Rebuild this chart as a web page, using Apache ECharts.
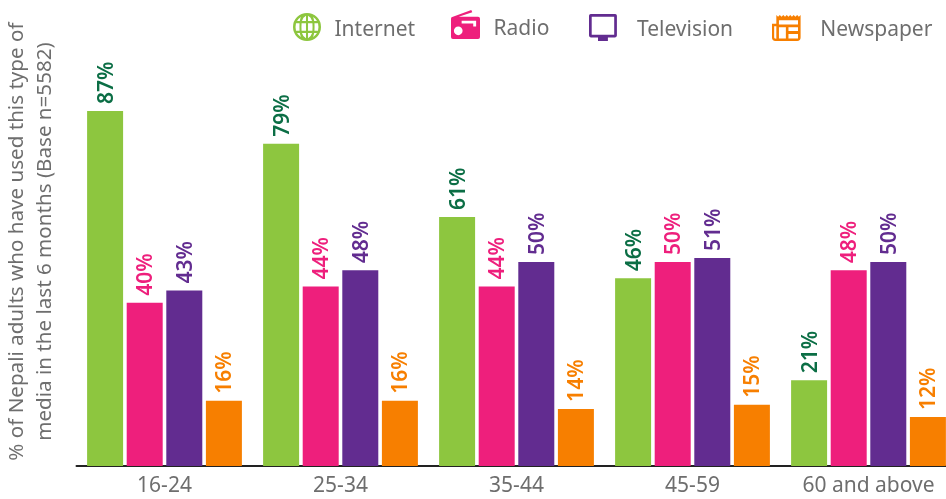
<!DOCTYPE html>
<html>
<head>
<meta charset="utf-8">
<style>
  html, body { margin: 0; padding: 0; background: #fff; }
  #chart { width: 946px; height: 499px; }
</style>
<script src="https://cdn.jsdelivr.net/npm/echarts@6/dist/echarts.min.js"></script>
</head>
<body>
<div id="chart"></div>
<script>
var categories = ['16-24', '25-34', '35-44', '45-59', '60 and above']
var internet = [87, 79, 61, 46, 21]
var radio = [40, 44, 44, 50, 48]
var television = [43, 48, 50, 51, 50]
var newspaper = [16, 16, 14, 15, 12]
var yTitle = '% of Nepali adults who have used this type of\nmedia in the last 6 months (Base n=5582)'

var FONT = '"Noto Sans", sans-serif'

// 图例图标 (holes are wound the other way round)
var globeIcon = 'path://M15 0A15 15 0 1 1 15 30A15 15 0 1 1 15 0Z' +
  'M13.9 3Q10.6 4.5 9.6 8.5L13.9 8.5Z' +
  'M16.1 3L16.1 8.5L20.4 8.5Q19.4 4.5 16.1 3Z' +
  'M8.5 4.4Q5.8 6 4.3 8.5L7.3 8.5Q7.7 6.2 8.5 4.4Z' +
  'M21.5 4.4Q22.3 6.2 22.7 8.5L25.7 8.5Q24.2 6 21.5 4.4Z' +
  'M7 11L3.2 11Q2.2 15 3.2 19L7 19Q6.8 15 7 11Z' +
  'M13.9 11L9.2 11Q8.9 15 9.2 19L13.9 19Z' +
  'M16.1 11L16.1 19L20.8 19Q21.1 15 20.8 11Z' +
  'M23 11Q23.2 15 23 19L26.8 19Q27.8 15 26.8 11Z' +
  'M13.9 21.5L9.6 21.5Q10.6 25.5 13.9 27Z' +
  'M16.1 21.5L16.1 27Q19.4 25.5 20.4 21.5Z' +
  'M7.3 21.5L4.3 21.5Q5.8 24 8.5 25.6Q7.7 23.8 7.3 21.5Z' +
  'M25.7 21.5L22.7 21.5Q22.3 23.8 21.5 25.6Q24.2 24 25.7 21.5Z'
var radioIcon = 'path://M2 7L21 0L22 2.4L8 7L28 7Q30 7 30 9L30 28Q30 30 28 30L2 30Q0 30 0 28L0 9Q0 7 2 7Z' +
  'M26 11L11 11L11 14L23 14L23 17L26 17Z' +
  'M7.5 17A4.5 4.5 0 1 0 7.5 26A4.5 4.5 0 1 0 7.5 17Z'
var tvIcon = 'path://M2 0L29 0Q31 0 31 2L31 24Q31 26 29 26L21 26L21 30L10 30L10 26L2 26Q0 26 0 24L0 2Q0 0 2 0Z' +
  'M28 3L3 3L3 23L28 23Z'
var paperIcon = 'path://M5 0L7 2L9 0L11 2L13 0L15 2L17 0L19 2L21 0L23 2L25 0L27 2L29 0L31 2L33 0L33 26Q33 30 29 30L4 30Q0 30 0 26L0 10L5 10Z' +
  'M30 6L8 6L8 11L30 11Z' +
  'M5 13L2.5 13L2.5 26Q2.5 27.5 5 27.5Z' +
  'M16 14L8 14L8 27L16 27Z' +
  'M30 14L19 14L19 18.5L30 18.5Z' +
  'M30 22L19 22L19 27L30 27Z'

// 单个图例，每个图标大小不同
// drop: 用 rich 的 padding 把文字往下移
function legendItem (name, icon, left, top, w, h, pad, drop) {
  return {
    left: left,
    top: top,
    padding: 0,
    itemWidth: w,
    itemHeight: h,
    formatter: '{a|{name}}',
    textStyle: {
      rich: {
        a: { color: '#6e6e6e', fontFamily: FONT, fontSize: 21, padding: [drop, 0, 0, pad] }
      }
    },
    data: [{ name: name, icon: icon }]
  }
}

// 柱子系列
function barSeries (name, data, color, labelColor) {
  return {
    name: name,
    type: 'bar',
    data: data,
    barWidth: 36,
    barGap: '10%',
    itemStyle: { color: color },
    label: {
      show: true,
      position: 'top',
      rotate: 90,
      align: 'left',
      verticalAlign: 'middle',
      distance: 7,
      offset: [0, 1.5],
      formatter: '{c}%',
      color: labelColor,
      fontFamily: FONT,
      fontSize: 21,
      fontWeight: 600
    }
  }
}

var chart = echarts.init(document.getElementById('chart'))
chart.setOption({
  animation: false,
  backgroundColor: '#ffffff',
  grid: { left: 76.5, top: 17.2, width: 880, height: 448.8, outerBoundsMode: 'none' },
  legend: [
    legendItem('Internet', globeIcon, 293, 13, 29, 28, 8, 6),
    legendItem('Radio', radioIcon, 451, 10, 30, 29, 8, 10),
    legendItem('Television', tvIcon, 589, 14, 32, 27, 13, 5),
    legendItem('Newspaper', paperIcon, 772, 15, 36, 26, 11, 4)
  ],
  xAxis: {
    type: 'category',
    data: categories,
    axisLine: { show: true, lineStyle: { color: '#222222', width: 2 } },
    axisTick: { show: false },
    axisLabel: { color: '#6e6e6e', fontFamily: FONT, fontSize: 21, margin: 10 }
  },
  yAxis: {
    type: 'value',
    min: 0,
    max: 110,
    axisLabel: { show: false },
    axisTick: { show: false },
    axisLine: { show: false },
    splitLine: { show: false },
    name: yTitle,
    nameLocation: 'middle',
    nameGap: 17,
    nameRotate: 90,
    nameTextStyle: { color: '#6e6e6e', fontFamily: FONT, fontSize: 20.6, lineHeight: 28 }
  },
  series: [
    barSeries('Internet', internet, '#8dc63f', '#0b6e45'),
    barSeries('Radio', radio, '#ee1f7c', '#ee1f7c'),
    barSeries('Television', television, '#622c90', '#622c90'),
    barSeries('Newspaper', newspaper, '#f77f00', '#f77f00')
  ]
})
</script>
</body>
</html>
